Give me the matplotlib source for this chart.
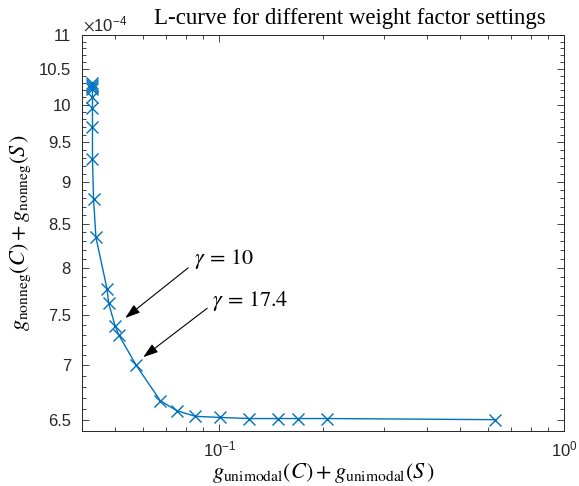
import numpy as np
import matplotlib.pyplot as plt
from matplotlib.ticker import FixedLocator, NullFormatter, LogLocator

plt.rcParams['font.family'] = 'Liberation Sans'
plt.rcParams['mathtext.fontset'] = 'stix'

# L-curve points (unimodality penalty vs. non-negativity penalty)
g_unimodal = [0.0429, 0.0429, 0.0429, 0.0429, 0.0429, 0.0429, 0.0429,
              0.0429, 0.0432, 0.0439, 0.0473, 0.0478, 0.0499, 0.0511,
              0.0575, 0.0675, 0.0754, 0.0852, 0.1002, 0.1224, 0.1485,
              0.1698, 0.2052, 0.631]
g_nonneg = [10.30, 10.27, 10.24, 10.21, 10.10, 9.95, 9.70, 9.29, 8.79,
            8.34, 7.77, 7.62, 7.39, 7.30, 7.00, 6.67, 6.58, 6.53, 6.52,
            6.51, 6.51, 6.51, 6.51, 6.50]
g_nonneg = np.array(g_nonneg) * 1e-4

ytick_vals = [6.5, 7, 7.5, 8, 8.5, 9, 9.5, 10, 10.5, 11]
ytick_labels = ['6.5', '7', '7.5', '8', '8.5', '9', '9.5', '10', '10.5', '11']

# gamma annotations: label, text pos, arrow tail, arrow tip
notes = [
    (r'$\gamma\,=\,10$', (0.0845, 8.10e-4), (0.0813, 8.00e-4), (0.0534, 7.47e-4)),
    (r'$\gamma\,=\,17.4$', (0.0955, 7.65e-4), (0.0923, 7.57e-4), (0.0602, 7.08e-4)),
]

blue = '#0072BD'
axc = '#262626'

fig = plt.figure(figsize=(5.79, 4.86), dpi=100)
ax = fig.add_axes([82/579, 1-431/486, (564-82)/579, (431-35)/486])

ax.plot(g_unimodal, g_nonneg, '-x', color=blue, lw=1.0, ms=8, mew=1.0)

ax.set_xscale('log')
ax.set_yscale('log')
ax.set_xlim(0.04, 1.0)
ax.set_ylim(6.4e-4, 11e-4)

ax.yaxis.set_major_locator(FixedLocator(np.array(ytick_vals) * 1e-4))
ax.set_yticklabels(ytick_labels)
ax.yaxis.set_minor_locator(FixedLocator(np.arange(6.4, 11.01, 0.1) * 1e-4))
ax.yaxis.set_minor_formatter(NullFormatter())
ax.xaxis.set_major_locator(LogLocator(base=10))
ax.xaxis.set_minor_locator(LogLocator(base=10, subs=np.arange(2, 10)))
ax.xaxis.set_minor_formatter(NullFormatter())

ax.tick_params(which='both', direction='in', top=True, right=True,
               colors=axc, labelcolor=axc, labelsize=12, width=0.6)
ax.tick_params(which='major', length=5)
ax.tick_params(axis='y', pad=8)
ax.tick_params(axis='x', pad=6)
ax.tick_params(which='minor', length=3)
for s in ax.spines.values():
    s.set_color(axc)
    s.set_linewidth(0.7)

for label, tpos, tail, tip in notes:
    ax.annotate('', xy=tip, xytext=tail,
                arrowprops=dict(arrowstyle='-|>,head_length=0.9,head_width=0.3',
                                color='k', lw=0.8, shrinkA=0, shrinkB=0))
    ax.text(tpos[0], tpos[1], label, fontsize=16, va='center', ha='left')

ax.set_xlabel(r'$g_{\mathrm{unimodal}}(C) + g_{\mathrm{unimodal}}(S\,)$',
              fontsize=16, labelpad=1)
ax.set_ylabel(r'$g_{\mathrm{nonneg}}(C) + g_{\mathrm{nonneg}}(S\,)$',
              fontsize=16, labelpad=4)
ax.set_title('L-curve for different weight factor settings',
             fontfamily='Liberation Serif', fontsize=16.5, x=0.556, pad=8)

fig.text(83/579, 1-24/486, r'$\times\mathdefault{10^{-4}}$', fontsize=12,
         color=axc, va='center', ha='left')

fig.savefig('out.png', dpi=100)
